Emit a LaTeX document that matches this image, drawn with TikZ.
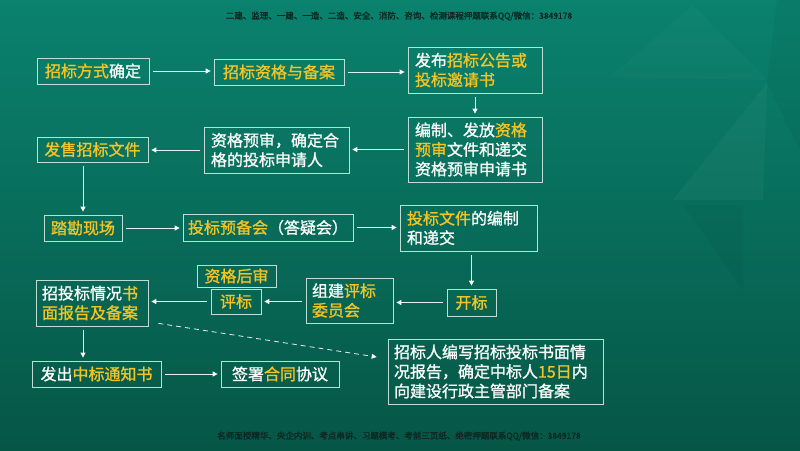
\documentclass[tikz,border=0pt]{standalone}
\usepackage{fontspec}
\setmainfont{Noto Sans CJK SC}
\newfontfamily\boxfont{Noto Sans CJK SC}[FakeBold=1.2]
\newfontfamily\hdrfont{Noto Sans CJK SC}[FakeBold=1.5]
\usetikzlibrary{arrows.meta}
\definecolor{bgtop}{RGB}{10,130,110}
\definecolor{bgbot}{RGB}{6,86,70}
\definecolor{hl}{RGB}{242,196,38}
\definecolor{txt}{RGB}{250,252,250}
\definecolor{bord}{RGB}{190,222,212}
\definecolor{hdr}{RGB}{12,40,34}
\newcommand{\hy}[1]{\textcolor{hl}{#1}}
\begin{document}
\begin{tikzpicture}[x=1pt,y=-1pt,
  box/.style={draw=bord, line width=0.7pt, text=txt, inner sep=0pt,
    font=\fontsize{16}{19.5}\selectfont\boxfont},
  mbox/.style={box, align=left},
  arr/.style={draw=white, draw opacity=0.9, line width=0.8pt,
    -{Triangle[width=5pt,length=5pt]}, shorten <=4pt, shorten >=3pt},
  dasharr/.style={arr, dash pattern=on 5pt off 4pt},
  small/.style={text=hdr, font=\fontsize{8.5}{10}\selectfont\hdrfont, inner sep=0pt}]
\useasboundingbox (0,0) rectangle (800,450);
\shade[top color=bgtop, bottom color=bgbot] (0,0) rectangle (800,450);
% decorative facets
\fill[white, opacity=0.035] (767,83) -- (673,200) -- (763,200) -- cycle;
\fill[white, opacity=0.02] (693,5) -- (767,80) -- (610,77) -- cycle;
\fill[black, opacity=0.04] (777,0) -- (800,0) -- (800,150) -- (767,83) -- cycle;
\fill[black, opacity=0.03] (683,205) -- (743,205) -- (743,290) -- cycle;

\node[small] (hd) at (399,16) {二建、监理、一建、一造、二造、安全、消防、咨询、检测课程押题联系QQ/微信：3849178};
\node[small] (ft) at (399,436) {名师面授精华、央企内训、考点串讲、习题模考、考前三页纸、绝密押题联系QQ/微信：3849178};

\node[box, minimum width=112pt, minimum height=26pt] (b1) at (93,71) {\hy{招标方式}确定};
\node[box, minimum width=130pt, minimum height=26pt] (b2) at (279,72) {\hy{招标资格与备案}};
\node[mbox, minimum width=134pt, minimum height=46pt, text width=120pt] (b3) at (475,70) {发布\hy{招标公告或}\\\hy{投标邀请书}};
\node[mbox, minimum width=134pt, minimum height=65pt, text width=120pt] (b4) at (475,149.5) {编制、发放\hy{资格}\\\hy{预审}文件和递交\\资格预审申请书};
\node[mbox, minimum width=145pt, minimum height=46pt, text width=131pt] (b5) at (276.5,150) {资格预审，确定合\\格的投标申请人};
\node[box, minimum width=111pt, minimum height=25pt] (b6) at (92.5,149.5) {\hy{发售招标文件}};
\node[box, minimum width=78pt, minimum height=26pt] (b7) at (83,228) {\hy{踏勘现场}};
\node[box, minimum width=170pt, minimum height=27pt] (b8) at (268,227.5) {\hy{投标预备会}（答疑会）};
\node[mbox, minimum width=137pt, minimum height=46pt, text width=123pt] (b9) at (468.5,228) {\hy{投标文件}的编制\\和递交};
\node[box, minimum width=49pt, minimum height=27pt] (b10) at (471.5,302.5) {\hy{开标}};
\node[mbox, minimum width=87pt, minimum height=45pt, text width=75pt] (b11) at (349.5,300.5) {组建\hy{评标}\\\hy{委员会}};
\node[box, minimum width=50pt, minimum height=25pt] (b12) at (236,301.5) {\hy{评标}};
\node[box, minimum width=79pt, minimum height=22pt] (b13) at (236.5,276) {\hy{资格后审}};
\node[mbox, minimum width=112pt, minimum height=46pt, text width=100pt] (b14) at (92,303) {招投标情况\hy{书}\\\hy{面报告及备案}};
\node[box, minimum width=129pt, minimum height=26pt] (b15) at (96.5,374) {发出\hy{中标通知书}};
\node[box, minimum width=118pt, minimum height=26pt] (b16) at (280,374) {签署\hy{合同}协议};
\node[mbox, minimum width=215pt, minimum height=65pt, text width=203pt] (b17) at (495.5,371.5) {招标人编写招标投标书面情\\况报告，确定中标人\hy{15日}内\\向建设行政主管部门备案};

\draw[arr] (b1.east) -- (b1.east -| b2.west);
\draw[arr] (b2.east) -- (b2.east -| b3.west);
\draw[arr] (b3.south) -- (b4.north);
\draw[arr] (b4.west) -- (b4.west -| b5.east);
\draw[arr] (b5.west) -- (b5.west -| b6.east);
\draw[arr] (b6.south -| b7.north) -- (b7.north);
\draw[arr] (b7.east) -- (b7.east -| b8.west);
\draw[arr] (b8.east) -- (b8.east -| b9.west);
\draw[arr] (b10.north |- b9.south) -- (b10.north);
\draw[arr] (b10.west) -- (b10.west -| b11.east);
\draw[arr] (b11.west |- b12.east) -- (b12.east);
\draw[arr] (b12.west) -- (b12.west -| b14.east);
\draw[arr] ([xshift=-9pt]b14.south) -- ([xshift=-9pt]b14.south |- b15.north);
\draw[arr] (b15.east) -- (b15.east -| b16.west);
\draw[dasharr, shorten <=0pt, shorten >=0pt] ([xshift=10pt,yshift=3pt]b14.south east) -- ([xshift=-11pt,yshift=14.5pt]b17.west);
\end{tikzpicture}
\end{document}
